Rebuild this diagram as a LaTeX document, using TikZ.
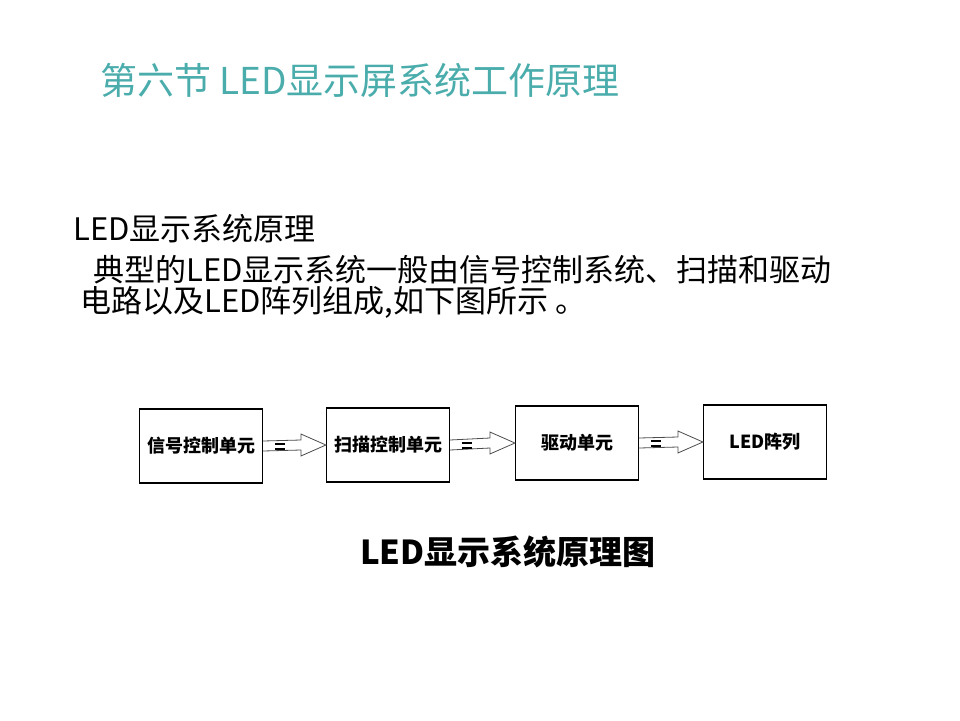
\documentclass[tikz,border=0pt]{standalone}
\usepackage{fontspec}
\setmainfont{Noto Sans CJK SC}
\usetikzlibrary{calc}
\definecolor{teal1}{RGB}{75,172,172}
\begin{document}
\begin{tikzpicture}[x=1pt,y=-1pt,
  blk/.style={draw,line width=1.2pt,minimum width=123pt,minimum height=74pt,inner sep=0pt,font=\fontsize{18}{20}\selectfont\bfseries},
  txt/.style={anchor=west,inner sep=0pt}]
\useasboundingbox (0,0) rectangle (960,720);
\node[txt,text=teal1,font=\fontsize{37}{40}\selectfont] (title) at (100,80) {第六节 LED显示屏系统工作原理};
\node[txt,font=\fontsize{31}{34}\selectfont] (h) at (73,229) {LED显示系统原理};
\node[txt,font=\fontsize{31}{34}\selectfont] (l1) at (93,270) {典型的LED显示系统一般由信号控制系统、扫描和驱动};
\node[txt,font=\fontsize{31}{34}\selectfont] (l2) at (80,302) {电路以及LED阵列组成,如下图所示 。};
\node[blk] (b1) at (201,446) {信号控制单元};
\node[blk] (b2) at (388,445) {扫描控制单元};
\node[blk] (b3) at (577,443) {驱动单元};
\node[blk] (b4) at (765,442) {LED阵列};
\foreach \a/\b in {b1/b2,b2/b3,b3/b4}{
  \coordinate (s) at (\a.east);
  \coordinate (t) at ($(\b.west)+(0,0)$);
  \draw[line width=0.8pt,gray!60!black] ($(s)+(0,-5)$) -- ($(t)+(-25,-5)$) -- ($(t)+(-25,-11)$) -- (t) -- ($(t)+(-25,11)$) -- ($(t)+(-25,5)$) -- ($(s)+(0,5)$);
  \draw[line width=2pt] ($(s)+(12,-2)$) -- ($(s)+(22,-2)$) ($(s)+(12,3)$) -- ($(s)+(22,3)$);
}
\node[font=\fontsize{33}{36}\selectfont\bfseries] (cap) at (508,552) {LED显示系统原理图};
\end{tikzpicture}
\end{document}
